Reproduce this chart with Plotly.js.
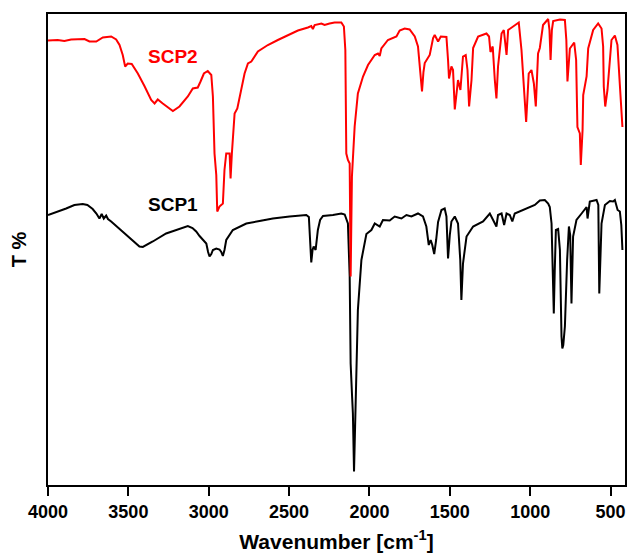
<!DOCTYPE html>
<html>
<head>
<meta charset="utf-8">
<script src="https://cdn.plot.ly/plotly-3.0.1.min.js"></script>
<style>html,body{margin:0;padding:0;background:#fff;}#chart{width:629px;height:558px;}</style>
</head>
<body>
<div id="chart"></div>
<script>
// SCP1 (black) spectrum: wavenumber [cm-1] and transmittance (arbitrary %)
const wnSCP1 = [4000,3941,3887,3836,3784,3755,3722,3699,3680,3666,3653,3638,3627,3607,3545,3482,3431,3410,3381,3348,3265,3182,3130,3101,3078,3057,3037,3015,3004,2995,2984,2974,2953,2933,2922,2912,2902,2891,2850,2766,2684,2601,2497,2393,2377,2368,2362,2354,2347,2335,2321,2307,2289,2227,2175,2154,2144,2134,2123,2117,2108,2103,2096,2088,2081,2072,2050,2019,1988,1967,1936,1916,1874,1843,1801,1770,1739,1698,1667,1646,1631,1619,1609,1597,1585,1573,1552,1532,1521,1511,1500,1490,1469,1449,1435,1428,1418,1396,1355,1326,1293,1251,1231,1210,1200,1178,1162,1147,1127,1111,1096,1044,1002,971,940,909,888,878,867,857,853,847,840,826,815,805,800,794,784,770,759,751,743,733,712,680,660,649,643,637,629,587,576,570,556,535,504,484,473,456,442,433,426];
const tSCP1 = [55,55.6,56.3,57,57.2,57,56.2,55.3,54.3,55.2,54.3,54.9,54.2,53.7,52,50.1,48.7,48.6,49.1,49.7,51.3,52.3,52.8,52.4,51.7,50.8,50,49.3,47.6,46.7,47.2,48,48.3,48.1,47.6,46.8,48,50,52,53.3,53.8,54.3,54.7,55,54.6,48.7,45.5,48,48.7,48,52,54,54.8,55,55.3,55.1,54.3,53.3,42.7,25.3,18.7,15.3,3.7,14,22.7,36,46,51.2,52,53.3,52.7,54,53.9,54.7,54.3,55,54.7,55.3,54.7,52.7,49,50,49,47.2,50,53.6,56,56.3,54.7,46.3,51,53.7,54.7,53.3,46,38,45.3,50.7,52.7,53.2,53.7,55.3,54,52.7,55,55.3,53,55.3,55,53.7,55.3,56,56.7,57,57.9,58,57.3,56.6,53.3,42,35.3,44,52,52.2,48,30.7,28.3,29,32.7,46,52.7,51,37.3,50.7,54,55.3,56.3,56.6,54.3,55.6,57.7,58,57,39.3,53.3,57,57.8,57.7,58,56,55.7,53,48];

// SCP2 (red) spectrum
const wnSCP2 = [4000,3940,3898,3856,3773,3742,3700,3659,3607,3576,3555,3535,3520,3504,3479,3441,3400,3358,3337,3317,3286,3223,3182,3130,3099,3068,3051,3030,3006,2984,2974,2964,2953,2947,2933,2912,2902,2891,2870,2864,2856,2839,2822,2798,2777,2756,2735,2694,2632,2570,2507,2445,2383,2362,2352,2341,2299,2279,2248,2217,2175,2159,2150,2144,2134,2123,2117,2109,2092,2072,2040,2009,1967,1947,1936,1926,1885,1854,1832,1812,1781,1750,1718,1698,1681,1673,1664,1656,1625,1604,1594,1573,1556,1521,1511,1505,1490,1480,1469,1449,1434,1418,1401,1390,1380,1365,1355,1324,1272,1256,1247,1233,1220,1210,1200,1178,1164,1147,1137,1096,1071,1054,1040,1025,1009,992,977,965,951,940,920,888,880,873,865,857,815,784,775,768,753,726,714,706,691,685,674,670,649,639,608,577,556,546,542,533,519,494,473,457,442,426];
const tSCP2 = [89.9,90,89.8,90.1,90.2,89.7,89.7,90.5,90.7,90.1,89,87,84.7,85.3,85.2,83.3,80.8,78,77.3,78.1,77.3,75.8,76.7,78.7,80.3,80.5,81.7,83.3,83.8,83,78.7,67.3,63,55.7,56.7,57.3,64,67.3,67.3,62.3,67.3,75.3,76.3,80,83.3,85.3,85.7,87.7,89,90,91,91.9,92.5,92.8,92.2,93,93.3,93,93.3,93.5,93.5,92.7,88,67.3,66,65.3,42.7,62.7,72.7,79.3,82.7,85,87,87.3,86.8,88.3,90,90.5,90.7,91.9,92.3,92.1,90.7,88.7,82.7,79.7,83.6,85.4,87,90.4,91,89.7,90.7,90.6,86,82.3,84.7,84,76.1,82,80,86.7,87,84,76.7,82,88.4,90.7,91.3,90.7,87.6,88.7,82,78.3,84.7,91.3,92,87,92,93,93.5,88,81,73.6,83.3,84,81.3,76.7,87.3,88.4,93,94.2,92,86,92,93.8,94.1,94,90,81.7,88.3,89.5,86,72.6,71.3,65,72,79,82.7,88.3,92,93.3,92.3,88.7,80.7,76.7,80,90,90.9,89,81,72.6];

const xTicks = [4000,3500,3000,2500,2000,1500,1000,500];
const seriesNames = ["SCP1","SCP2"];

const font = "Liberation Sans, Arial, sans-serif";

const traces = [
  {x: wnSCP1, y: tSCP1, type: "scatter", mode: "lines", name: seriesNames[0],
   line: {color: "#000000", width: 2}},
  {x: wnSCP2, y: tSCP2, type: "scatter", mode: "lines", name: seriesNames[1],
   line: {color: "#ff0000", width: 2}}
];

const layout = {
  width: 629, height: 558,
  margin: {l: 48, r: 4, t: 14, b: 73},
  paper_bgcolor: "#ffffff", plot_bgcolor: "#ffffff",
  showlegend: false,
  font: {family: font, color: "#000"},
  xaxis: {
    range: [4000, 410],
    tickvals: xTicks,
    ticktext: xTicks.map(String),
    ticks: "outside", ticklen: 9, tickwidth: 2, tickcolor: "#000",
    showline: true, linecolor: "#000", linewidth: 2, mirror: true,
    showgrid: false, zeroline: false,
    tickfont: {family: font, size: 18, color: "#000", weight: "bold"},
    title: {text: "<b>Wavenumber [cm<sup>-1</sup>]</b>", font: {family: font, size: 21, color: "#000"}, standoff: 14}
  },
  yaxis: {
    range: [1, 95.2],
    showticklabels: false, ticks: "",
    showline: true, linecolor: "#000", linewidth: 2, mirror: true,
    showgrid: false, zeroline: false,
    title: {text: "<b>T %</b>", font: {family: font, size: 20, color: "#000"}, standoff: 14}
  },
  annotations: [
    {x: 3225, y: 86.8, xref: "x", yref: "y", text: "<b>SCP2</b>", showarrow: false,
     font: {family: font, size: 19, color: "#ff0000"}},
    {x: 3225, y: 57.2, xref: "x", yref: "y", text: "<b>SCP1</b>", showarrow: false,
     font: {family: font, size: 19, color: "#000000"}}
  ]
};

Plotly.newPlot("chart", traces, layout, {displayModeBar: false, staticPlot: true});
</script>
</body>
</html>
